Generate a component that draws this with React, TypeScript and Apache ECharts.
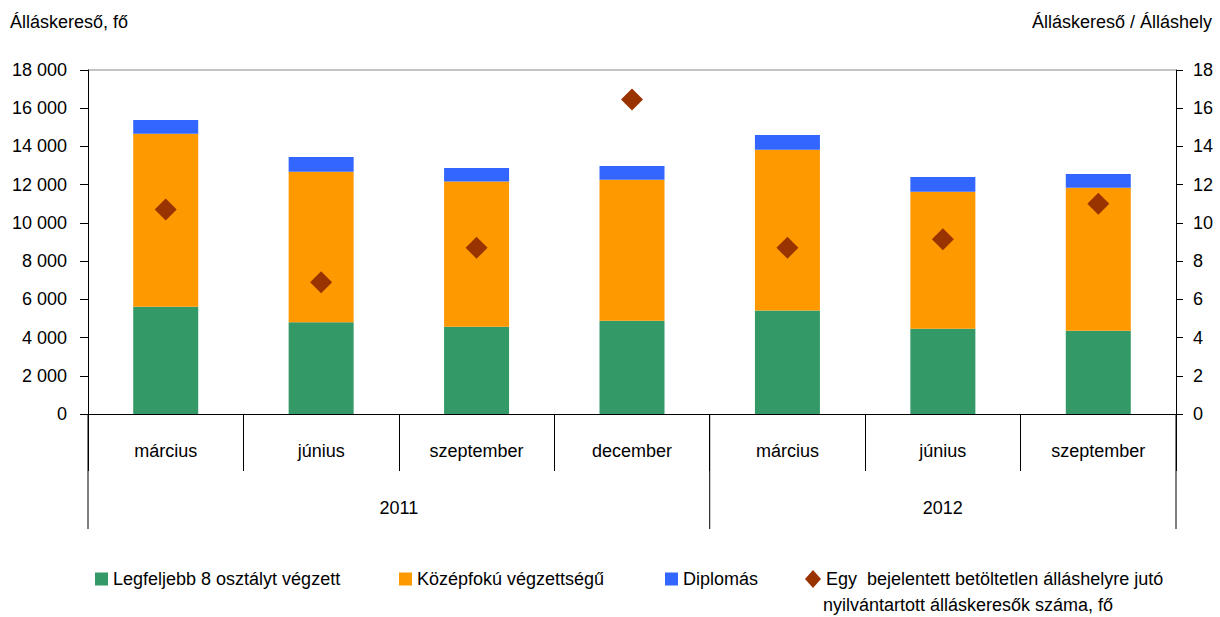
import React, { useEffect, useRef } from "react";
import * as echarts from "echarts";

const months = ["március", "június", "szeptember", "december", "március", "június", "szeptember"];
const years = ["2011", "2012"];
const yearSpans = [4, 3];

const lowEdu = [5610, 4800, 4570, 4880, 5410, 4460, 4360];
const midEdu = [9060, 7880, 7590, 7380, 8420, 7170, 7480];
const graduates = [710, 770, 710, 720, 770, 770, 720];
const ratio = [10.7, 6.9, 8.7, 16.45, 8.7, 9.15, 11.0];

const seriesNames = [
  "Legfeljebb 8 osztályt végzett",
  "Középfokú végzettségű",
  "Diplomás",
  "Egy  bejelentett betöltetlen álláshelyre jutó nyilvántartott álláskeresők száma, fő",
];
const ratioLine1 = "Egy  bejelentett betöltetlen álláshelyre jutó";
const ratioLine2 = "nyilvántartott álláskeresők száma, fő";

const leftTitle = "Álláskereső, fő";
const rightTitle = "Álláskereső / Álláshely";

const FONT = "'Liberation Sans', Arial, sans-serif";
const FS = 18;

function fmtThousands(v: number): string {
  const s = String(Math.round(v));
  return s.replace(/\B(?=(\d{3})+(?!\d))/g, " ");
}

export default function App() {
  const ref = useRef<HTMLDivElement>(null);

  useEffect(() => {
    document.body.style.margin = "0";
    if (!ref.current) return;
    const chart = echarts.init(ref.current, null, { renderer: "svg" });

    const textStyle = { color: "#000", fontFamily: FONT, fontSize: FS };
    const legendBase = {
      top: 570,
      padding: 0,
      itemWidth: 13,
      itemHeight: 13,
      textStyle: { ...textStyle },
      selectedMode: false,
    };

    const option: any = {
      animation: false,
      textStyle: { fontFamily: FONT },
      grid: { left: 88, right: 44, top: 70, bottom: 203, containLabel: false },
      legend: [
        { ...legendBase, left: 95, data: [seriesNames[0]], icon: "rect" },
        { ...legendBase, left: 399, data: [seriesNames[1]], icon: "rect" },
        { ...legendBase, left: 665, data: [seriesNames[2]], icon: "rect" },
        {
          ...legendBase,
          left: 805,
          data: [seriesNames[3]],
          icon: "diamond",
          itemWidth: 16,
          itemHeight: 18,
          formatter: () => ratioLine1,
        },
      ],
      xAxis: {
        type: "category",
        data: months,
        axisLine: { show: true, lineStyle: { color: "#000", width: 1 } },
        axisTick: { show: true, interval: 0, length: 57, alignWithLabel: false, lineStyle: { color: "#000" } },
        axisLabel: { interval: 0, margin: 28, ...textStyle },
        splitLine: { show: false },
      },
      yAxis: [
        {
          type: "value",
          min: 0,
          max: 18000,
          interval: 2000,
          axisLine: { show: true, lineStyle: { color: "#000" } },
          axisTick: { show: true, length: 8, lineStyle: { color: "#000" } },
          axisLabel: { margin: 21, formatter: (v: number) => fmtThousands(v), ...textStyle },
          splitLine: { show: false },
        },
        {
          type: "value",
          min: 0,
          max: 18,
          interval: 2,
          position: "right",
          axisLine: { show: true, lineStyle: { color: "#000" } },
          axisTick: { show: true, length: 7, lineStyle: { color: "#000" } },
          axisLabel: { margin: 17, ...textStyle },
          splitLine: { show: false },
        },
      ],
      series: [
        { name: seriesNames[0], type: "bar", stack: "a", barWidth: 65, data: lowEdu, itemStyle: { color: "#339966" } },
        { name: seriesNames[1], type: "bar", stack: "a", barWidth: 65, data: midEdu, itemStyle: { color: "#FF9900" } },
        { name: seriesNames[2], type: "bar", stack: "a", barWidth: 65, data: graduates, itemStyle: { color: "#3366FF" } },
        {
          name: seriesNames[3],
          type: "scatter",
          yAxisIndex: 1,
          symbol: "diamond",
          symbolSize: 22,
          data: ratio,
          itemStyle: { color: "#993300", opacity: 1 },
          z: 5,
        },
      ],
    };

    chart.setOption(option);

    const c0 = chart.convertToPixel({ xAxisIndex: 0 }, 0) as number;
    const c1 = chart.convertToPixel({ xAxisIndex: 0 }, 1) as number;
    const band = c1 - c0;
    const leftX = c0 - band / 2;
    const yZero = chart.convertToPixel({ yAxisIndex: 0 }, 0) as number;
    const yTop = chart.convertToPixel({ yAxisIndex: 0 }, 18000) as number;
    const rightX = leftX + band * months.length;

    const graphics: any[] = [];
    graphics.push({
      type: "line",
      shape: { x1: leftX, y1: yTop, x2: rightX, y2: yTop },
      style: { stroke: "#888", lineWidth: 1 },
      silent: true,
    });
    let start = 0;
    const bounds = [leftX];
    years.forEach((yr, i) => {
      const span = yearSpans[i];
      const xs = leftX + band * start;
      const xe = leftX + band * (start + span);
      bounds.push(xe);
      graphics.push({
        type: "text",
        x: (xs + xe) / 2,
        y: 508,
        style: { text: yr, fill: "#000", fontFamily: FONT, fontSize: FS, align: "center", verticalAlign: "middle" },
        silent: true,
      });
      start += span;
    });
    bounds.forEach((bx) => {
      graphics.push({
        type: "line",
        shape: { x1: bx, y1: yZero, x2: bx, y2: 529 },
        style: { stroke: "#000", lineWidth: 1 },
        silent: true,
      });
    });
    graphics.push({
      type: "text",
      x: 10,
      y: 22,
      style: { text: leftTitle, fill: "#000", fontFamily: FONT, fontSize: FS, align: "left", verticalAlign: "middle" },
      silent: true,
    });
    graphics.push({
      type: "text",
      x: 1212,
      y: 22,
      style: { text: rightTitle, fill: "#000", fontFamily: FONT, fontSize: FS, align: "right", verticalAlign: "middle" },
      silent: true,
    });
    graphics.push({
      type: "text",
      x: 823,
      y: 605,
      style: { text: ratioLine2, fill: "#000", fontFamily: FONT, fontSize: FS, align: "left", verticalAlign: "middle" },
      silent: true,
    });

    chart.setOption({ graphic: graphics });

    return () => chart.dispose();
  }, []);

  return <div ref={ref} style={{ width: 1220, height: 617 }} />;
}
